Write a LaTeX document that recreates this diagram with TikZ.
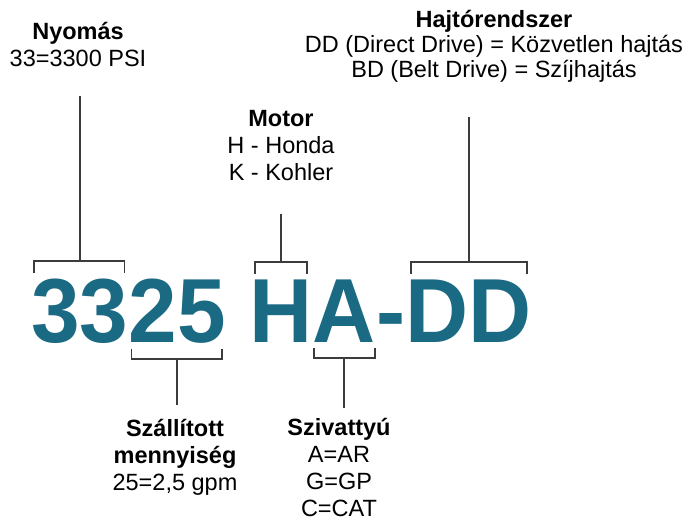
\documentclass[tikz,border=0pt]{standalone}
\usepackage{fontspec}
\setmainfont{Liberation Sans}
\newfontfamily\codefont[FakeStretch=0.96]{Liberation Sans Bold}
\usetikzlibrary{positioning,calc}
\definecolor{codeteal}{HTML}{1B6A83}
\definecolor{brkgray}{HTML}{3C3C3C}

\begin{document}
\begin{tikzpicture}[x=1pt, y=1pt,
  code/.style={inner sep=0pt, anchor=base west, text=codeteal, font=\codefont\fontsize{91}{91}\selectfont},
  lbl/.style={inner sep=0pt, anchor=north, align=center, font=\fontsize{23.5}{27}\selectfont},
  brk/.style={line width=1.8pt, draw=brkgray}]
  \useasboundingbox (0,0) rectangle (687,526);

  % The model code
  \node[code] (p33) at (31,183) {33};
  \node[code] (p25) at (p33.base east) {25};
  \node[code] (pH) at ($(p25.base east)+(23,0)$) {H};
  \node[code] (pA) at (pH.base east) {A};
  \node[code] (pdash) at (pA.base east) {-};
  \node[code] (pDD) at (pdash.base east) {DD};

  % Labels
  \node[lbl] (nyomas) at (78,504) {\textbf{Nyomás}\\33=3300 PSI};
  \node[lbl] (hajto) at (494,516) {\textbf{Hajtórendszer}\\[-2pt]DD (Direct Drive) = Közvetlen hajtás\\[-2pt]BD (Belt Drive) = Szíjhajtás};
  \node[lbl] (motor) at (281,416) {\textbf{Motor}\\H - Honda\\K - Kohler};
  \node[lbl] (szall) at (175,107) {\textbf{Szállított}\\\textbf{mennyiség}\\25=2,5 gpm};
  \node[lbl] (sziv) at (339,108) {\textbf{Szivattyú}\\A=AR\\G=GP\\C=CAT};

  % Brackets above
  \draw[brk] ($(p33.north west)+(3,6)$) -- ++(0,12) -| ($(p33.north east)+(-4,6)$);
  \draw[brk] ($(pH.north west)+(6,6)$) -- ++(0,12) -| ($(pH.north east)+(-6,6)$);
  \draw[brk] ($(pDD.north west)+(5,6)$) -- ++(0,12) -| ($(pDD.north east)+(-5,6)$);
  \coordinate (t33) at ($(p33.north)+(0,18)$);
  \coordinate (tH) at ($(pH.north)+(0,18)$);
  \coordinate (tDD) at ($(pDD.north)+(0,18)$);
  \draw[brk, shorten >=29pt] (t33) -- (t33 |- nyomas.south);
  \draw[brk, shorten >=33pt] (tH) -- (tH |- motor.south);
  \draw[brk, shorten >=34pt] (tDD) -- (tDD |- hajto.south);

  % Brackets below
  \draw[brk] ($(p25.south west)+(3,-5)$) -- ++(0,-10) -| ($(p25.south east)+(-4,-5)$);
  \draw[brk] ($(pA.south west)+(1,-5)$) -- ++(0,-10) -| ($(pA.south east)+(-1,-5)$);
  \coordinate (b25) at ($(p25.south)+(0,-15)$);
  \coordinate (bA) at ($(pA.south)+(0,-15)$);
  \draw[brk, shorten >=14pt] (b25) -- (b25 |- szall.north);
  \draw[brk, shorten >=10pt] (bA) -- (bA |- sziv.north);
\end{tikzpicture}
\end{document}
